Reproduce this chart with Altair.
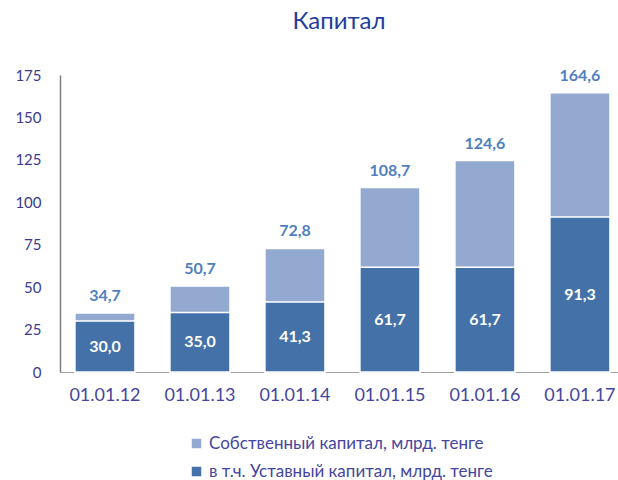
import altair as alt
import pandas as pd

dates = ["01.01.12", "01.01.13", "01.01.14", "01.01.15", "01.01.16", "01.01.17"]
total = [34.7, 50.7, 72.8, 108.7, 124.6, 164.6]
charter = [30.0, 35.0, 41.3, 61.7, 61.7, 91.3]
s_total = "Собственный капитал, млрд. тенге"
s_charter = "в т.ч. Уставный капитал, млрд. тенге"

rows = []
for d, t in zip(dates, total):
    rows.append({"date": d, "series": s_total, "value": t})
for d, c in zip(dates, charter):
    rows.append({"date": d, "series": s_charter, "value": c})
df = pd.DataFrame(rows)

FONT = "Lato"
LIGHT = "#94A9D0"
DARK = "#4371A8"

x = alt.X("date:N", sort=dates, title=None,
          scale=alt.Scale(paddingInner=0.368, paddingOuter=0.121, align=0.65),
          axis=alt.Axis(labelAngle=0, labelFontSize=18, labelColor="#4545A0",
                        labelFont=FONT, domainColor="#A0A0A0", ticks=False,
                        labelPadding=14, domainWidth=1))
y = alt.Y("value:Q", stack=None, title=None,
          scale=alt.Scale(domain=[0, 175], nice=False),
          axis=alt.Axis(values=[0, 25, 50, 75, 100, 125, 150, 175], grid=False,
                        ticks=False, labelPadding=19, labelFontSize=15,
                        labelColor="#3B3B8F", labelFont=FONT,
                        domainColor="#808080", domainWidth=1.5))

bars = alt.Chart(df).mark_bar(stroke="white", strokeWidth=1.5).encode(
    x=x, y=y,
    color=alt.Color("series:N", title=None,
                    scale=alt.Scale(domain=[s_total, s_charter], range=[LIGHT, DARK]),
                    legend=alt.Legend(orient="none", legendX=128, legendY=360,
                                      symbolType="square", symbolSize=90,
                                      symbolStrokeWidth=0,
                                      labelFontSize=17, labelFont=FONT,
                                      labelColor="#4545A0", rowPadding=10,
                                      labelLimit=400)),
)

top_labels = alt.Chart(df).transform_filter(
    alt.datum.series == s_total
).transform_calculate(
    lab="replace(format(datum.value, '.1f'), '.', ',')"
).mark_text(dy=-17, fontSize=16, fontWeight="bold", color="#4F7FC0", font=FONT).encode(
    x=alt.X("date:N", sort=dates), y=alt.Y("value:Q"), text="lab:N"
)

in_labels = alt.Chart(df).transform_filter(
    alt.datum.series == s_charter
).transform_calculate(
    lab="replace(format(datum.value, '.1f'), '.', ',')",
    mid="datum.value / 2"
).mark_text(fontSize=16, fontWeight="bold", color="white", font=FONT).encode(
    x=alt.X("date:N", sort=dates), y=alt.Y("mid:Q"), text="lab:N"
)

chart = alt.layer(bars, top_labels, in_labels).properties(
    width=558, height=297,
    title=alt.Title("Капитал", fontSize=24, font=FONT, color="#1F3E9C",
                    fontWeight="normal", offset=34, anchor="middle"),
    autosize=alt.AutoSizeParams(type="none"),
    padding={"left": 60, "top": 75, "right": 0, "bottom": 108},
).configure_view(stroke=None)

chart.save("out.html", embed_options={"renderer": "svg", "actions": False})
